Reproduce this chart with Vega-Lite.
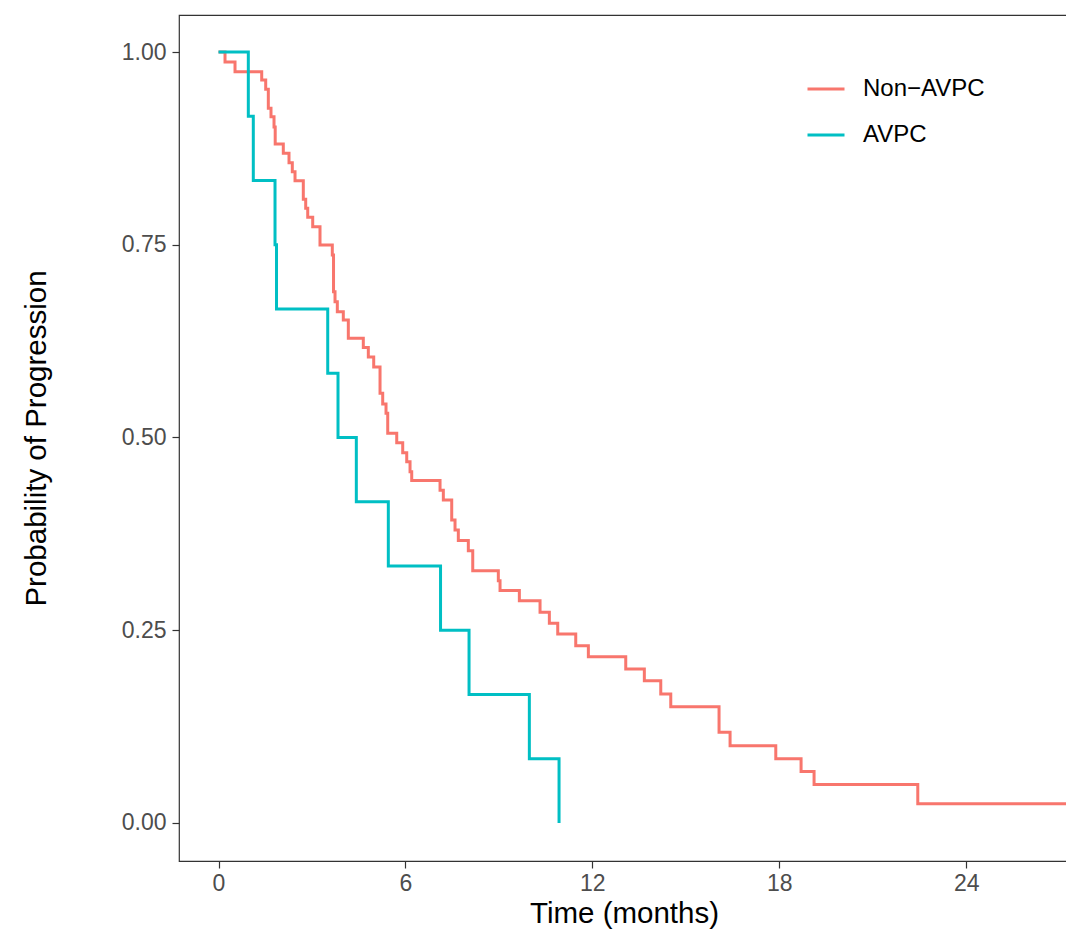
{
  "$schema": "https://vega.github.io/schema/vega-lite/v6.json",
  "width": 890,
  "height": 846,
  "autosize": {"type": "none"},
  "padding": {"left": 179, "top": 15, "right": 0, "bottom": 71},
  "background": "white",
  "config": {
    "font": "Liberation Sans",
    "view": {"stroke": "#333333", "strokeWidth": 1.2}
  },
  "data": {
    "values": [
      {"group": "Non−AVPC", "time": 0, "surv": 1},
      {"group": "Non−AVPC", "time": 0.209, "surv": 0.987},
      {"group": "Non−AVPC", "time": 0.53, "surv": 0.9744},
      {"group": "Non−AVPC", "time": 1.387, "surv": 0.9637},
      {"group": "Non−AVPC", "time": 1.515, "surv": 0.9516},
      {"group": "Non−AVPC", "time": 1.599, "surv": 0.927},
      {"group": "Non−AVPC", "time": 1.685, "surv": 0.916},
      {"group": "Non−AVPC", "time": 1.782, "surv": 0.9027},
      {"group": "Non−AVPC", "time": 1.82, "surv": 0.8807},
      {"group": "Non−AVPC", "time": 2.08, "surv": 0.8686},
      {"group": "Non−AVPC", "time": 2.263, "surv": 0.8564},
      {"group": "Non−AVPC", "time": 2.369, "surv": 0.8447},
      {"group": "Non−AVPC", "time": 2.456, "surv": 0.8331},
      {"group": "Non−AVPC", "time": 2.722, "surv": 0.8089},
      {"group": "Non−AVPC", "time": 2.799, "surv": 0.7973},
      {"group": "Non−AVPC", "time": 2.864, "surv": 0.7856},
      {"group": "Non−AVPC", "time": 3.024, "surv": 0.7734},
      {"group": "Non−AVPC", "time": 3.258, "surv": 0.7497},
      {"group": "Non−AVPC", "time": 3.653, "surv": 0.7367},
      {"group": "Non−AVPC", "time": 3.692, "surv": 0.6891},
      {"group": "Non−AVPC", "time": 3.74, "surv": 0.6761},
      {"group": "Non−AVPC", "time": 3.814, "surv": 0.6632},
      {"group": "Non−AVPC", "time": 4.006, "surv": 0.6524},
      {"group": "Non−AVPC", "time": 4.167, "surv": 0.6287},
      {"group": "Non−AVPC", "time": 4.648, "surv": 0.6167},
      {"group": "Non−AVPC", "time": 4.809, "surv": 0.6044},
      {"group": "Non−AVPC", "time": 4.982, "surv": 0.5914},
      {"group": "Non−AVPC", "time": 5.185, "surv": 0.5573},
      {"group": "Non−AVPC", "time": 5.271, "surv": 0.5434},
      {"group": "Non−AVPC", "time": 5.377, "surv": 0.5314},
      {"group": "Non−AVPC", "time": 5.432, "surv": 0.5054},
      {"group": "Non−AVPC", "time": 5.721, "surv": 0.4933},
      {"group": "Non−AVPC", "time": 5.913, "surv": 0.4803},
      {"group": "Non−AVPC", "time": 6.042, "surv": 0.4686},
      {"group": "Non−AVPC", "time": 6.148, "surv": 0.4556},
      {"group": "Non−AVPC", "time": 6.202, "surv": 0.4442},
      {"group": "Non−AVPC", "time": 7.111, "surv": 0.4315},
      {"group": "Non−AVPC", "time": 7.217, "surv": 0.4189},
      {"group": "Non−AVPC", "time": 7.486, "surv": 0.393},
      {"group": "Non−AVPC", "time": 7.592, "surv": 0.38},
      {"group": "Non−AVPC", "time": 7.698, "surv": 0.3664},
      {"group": "Non−AVPC", "time": 8.019, "surv": 0.3532},
      {"group": "Non−AVPC", "time": 8.161, "surv": 0.3272},
      {"group": "Non−AVPC", "time": 8.982, "surv": 0.3143},
      {"group": "Non−AVPC", "time": 9.037, "surv": 0.3016},
      {"group": "Non−AVPC", "time": 9.657, "surv": 0.2883},
      {"group": "Non−AVPC", "time": 10.321, "surv": 0.2733},
      {"group": "Non−AVPC", "time": 10.62, "surv": 0.259},
      {"group": "Non−AVPC", "time": 10.889, "surv": 0.2451},
      {"group": "Non−AVPC", "time": 11.467, "surv": 0.23},
      {"group": "Non−AVPC", "time": 11.872, "surv": 0.2157},
      {"group": "Non−AVPC", "time": 13.072, "surv": 0.1997},
      {"group": "Non−AVPC", "time": 13.669, "surv": 0.1846},
      {"group": "Non−AVPC", "time": 14.196, "surv": 0.1673},
      {"group": "Non−AVPC", "time": 14.517, "surv": 0.1508},
      {"group": "Non−AVPC", "time": 16.067, "surv": 0.1176},
      {"group": "Non−AVPC", "time": 16.421, "surv": 0.1003},
      {"group": "Non−AVPC", "time": 17.888, "surv": 0.0833},
      {"group": "Non−AVPC", "time": 18.7, "surv": 0.0667},
      {"group": "Non−AVPC", "time": 19.117, "surv": 0.05},
      {"group": "Non−AVPC", "time": 22.446, "surv": 0.025},
      {"group": "Non−AVPC", "time": 27.6, "surv": 0.025},
      {"group": "AVPC", "time": 0, "surv": 1},
      {"group": "AVPC", "time": 0.957, "surv": 0.9167},
      {"group": "AVPC", "time": 1.117, "surv": 0.8333},
      {"group": "AVPC", "time": 1.814, "surv": 0.75},
      {"group": "AVPC", "time": 1.862, "surv": 0.6667},
      {"group": "AVPC", "time": 3.506, "surv": 0.5833},
      {"group": "AVPC", "time": 3.836, "surv": 0.5},
      {"group": "AVPC", "time": 4.424, "surv": 0.4167},
      {"group": "AVPC", "time": 5.451, "surv": 0.3333},
      {"group": "AVPC", "time": 7.127, "surv": 0.25},
      {"group": "AVPC", "time": 8.042, "surv": 0.1667},
      {"group": "AVPC", "time": 9.978, "surv": 0.0833},
      {"group": "AVPC", "time": 10.931, "surv": 0}
    ]
  },
  "mark": {"type": "line", "interpolate": "step-after", "strokeWidth": 3, "clip": true},
  "encoding": {
    "x": {
      "field": "time",
      "type": "quantitative",
      "scale": {"domain": [-1.268, 27.3], "nice": false, "zero": false},
      "axis": {
        "values": [0, 6, 12, 18, 24],
        "title": "Time (months)",
        "domain": false,
        "grid": false,
        "tickSize": 7,
        "tickWidth": 1.2,
        "tickColor": "#333333",
        "labelFontSize": 23,
        "labelColor": "#4D4D4D",
        "labelPadding": 4,
        "titleFontSize": 29.5,
        "titleFontWeight": "normal",
        "titleColor": "#000000",
        "titlePadding": 4
      }
    },
    "y": {
      "field": "surv",
      "type": "quantitative",
      "scale": {"domain": [-0.0493, 1.048], "nice": false, "zero": false},
      "axis": {
        "values": [0, 0.25, 0.5, 0.75, 1],
        "format": ".2f",
        "title": "Probability of Progression",
        "domain": false,
        "grid": false,
        "tickSize": 7,
        "tickWidth": 1.2,
        "tickColor": "#333333",
        "labelFontSize": 23,
        "labelColor": "#4D4D4D",
        "labelPadding": 6,
        "titleFontSize": 29.5,
        "titleFontWeight": "normal",
        "titleColor": "#000000",
        "titlePadding": 70
      }
    },
    "color": {
      "field": "group",
      "type": "nominal",
      "sort": ["Non−AVPC", "AVPC"],
      "scale": {"domain": ["Non−AVPC", "AVPC"], "range": ["#F8766D", "#00BFC4"]},
      "legend": {
        "title": null,
        "orient": "none",
        "legendX": 627,
        "legendY": 54,
        "padding": 0,
        "symbolType": "stroke",
        "symbolSize": 1369,
        "symbolStrokeWidth": 3,
        "labelFontSize": 24,
        "labelColor": "#000000",
        "labelOffset": 17,
        "rowPadding": 14
      }
    }
  }
}
